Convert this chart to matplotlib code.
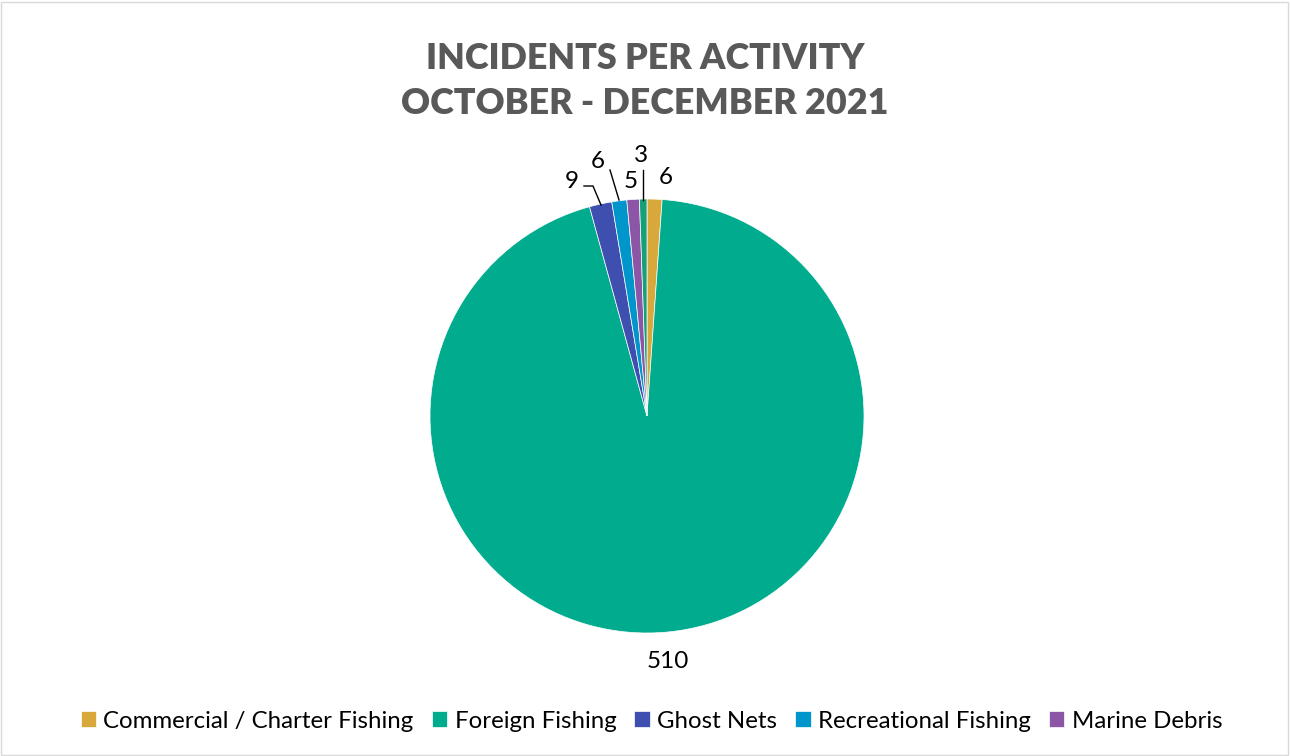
import matplotlib
matplotlib.use("Agg")
import matplotlib.pyplot as plt
from matplotlib.patches import Rectangle
import numpy as np

categories = ["Commercial / Charter Fishing", "Foreign Fishing", "Ghost Nets",
              "Recreational Fishing", "Marine Debris", "Other"]
values = [6, 510, 9, 6, 5, 3]
colors = ["#D8A83A", "#00AB8E", "#3F4FB0", "#0096CB", "#8D55A6", "#15A07A"]
legend_count = 5
title = "INCIDENTS PER ACTIVITY\nOCTOBER - DECEMBER 2021"

plt.rcParams['font.family'] = ['Lato', 'DejaVu Sans']

W, H = 1290, 756
fig = plt.figure(figsize=(W / 100, H / 100), dpi=100)
ax = fig.add_axes([0, 0, 1, 1])
ax.set_xlim(0, W)
ax.set_ylim(0, H)
ax.set_aspect('equal')
ax.axis('off')

cx, cy, R = 647, H - 416, 217
wedges, _ = ax.pie(values, colors=colors, startangle=90, counterclock=False,
                   center=(cx, cy), radius=R, frame=True,
                   wedgeprops=dict(linewidth=0.5, edgecolor='white'))
ax.set_xlim(0, W)
ax.set_ylim(0, H)
ax.axis('off')

# data labels (pixel layout positions, y from top)
label_pos = [(666, 178), (668, 661), (572, 182), (598, 162), (631, 182), (641, 156)]
for v, (px, py) in zip(values, label_pos):
    ax.text(px, H - py, str(v), ha='center', va='center', fontsize=17.5, color='#000000')

# leader lines
leaders = [
    [(584, 186), (593, 186), (601, 205)],
    [(610, 170), (619, 200)],
    [(643, 170), (643, 200)],
]
for seg in leaders:
    xs = [p[0] for p in seg]
    ys = [H - p[1] for p in seg]
    ax.plot(xs, ys, color='black', lw=1.0)

fig.text(0.5, 1 - 81 / H, title, ha='center', va='center', fontsize=25.8,
         fontweight='heavy', color='#595959', linespacing=1.45)

leg = fig.legend(wedges[:legend_count], categories[:legend_count],
                 loc='center', bbox_to_anchor=(0.505, 1 - 721 / H), ncol=legend_count,
                 frameon=False, fontsize=17.3, handlelength=0.65, handleheight=0.65,
                 handletextpad=0.3, columnspacing=0.75)

fig.patches.append(Rectangle((1 / W, 1 / H), 1 - 3 / W, 1 - 3 / H, transform=fig.transFigure,
                             fill=False, edgecolor='#D9D9D9', lw=1.0))

fig.savefig("out.png", dpi=100)
